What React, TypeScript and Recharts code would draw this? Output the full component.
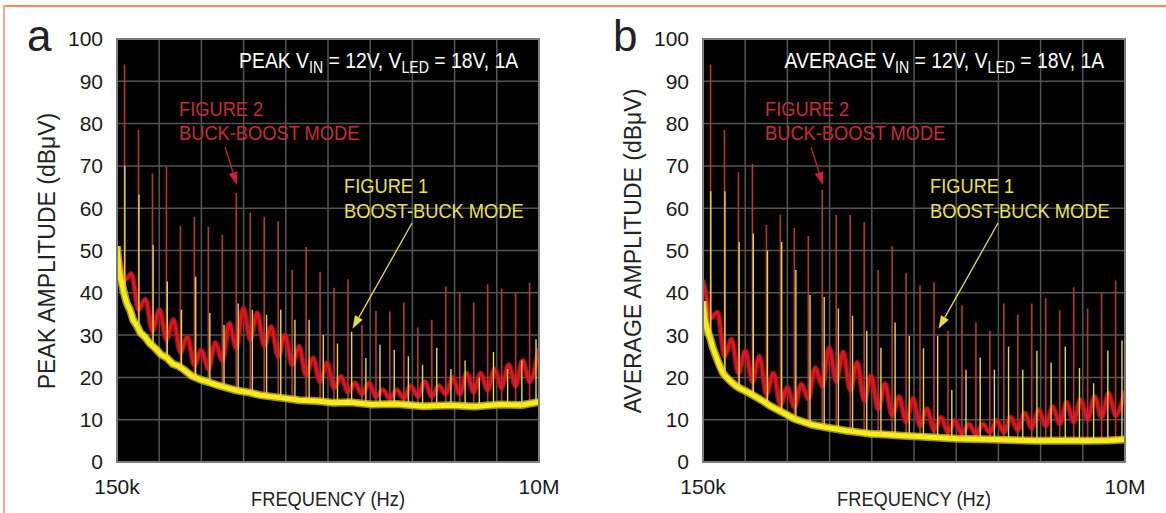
import React from 'react';
import { LineChart, Line, XAxis, YAxis, CartesianGrid, ReferenceLine } from 'recharts';

const FONT = "'Liberation Sans', Arial, sans-serif";
const NARROW = "'Liberation Sans Narrow', 'Liberation Sans', Arial, sans-serif";

// axis
const yTicks = [0, 10, 20, 30, 40, 50, 60, 70, 80, 90, 100];
const xGridKHz = [150, 1135, 2120, 3105, 4090, 5075, 6060, 7045, 8030, 9015, 10000];

// switching harmonics (kHz)
const redHarmonicsKHz = [
  326, 652, 978, 1304, 1630, 1956, 2282, 2608, 2934, 3260, 3586, 3912, 4238, 4564, 4890,
  5216, 5542, 5868, 6194, 6520, 6846, 7172, 7498, 7824, 8150, 8476, 8802, 9128, 9454, 9780,
];
const yellowHarmonicsKHz = [
  331, 662, 993, 1324, 1655, 1986, 2317, 2648, 2979, 3310, 3641, 3972, 4303, 4634, 4965,
  5296, 5627, 5958, 6289, 6620, 6951, 7282, 7613, 7944, 8275, 8606, 8937, 9268, 9599, 9930,
];

// spike tops (dBuV)
const redSpikePeak = [94, 78.5, 68.2, 69.8, 55.8, 58, 55.6, 53.7, 63.6, 58.9, 58, 56.9, 45.4, 50.8, 45, 41.2, 43.2, 32.4, 35.7, 35.6, 37.7, 31.8, 33.6, 41.5, 40, 37.7, 42, 41, 40, 42.4];
const yellowSpikePeak = [70, 63.2, 51.3, 42.7, 36, 43.8, 35.2, 32.4, 37.5, 36, 34.8, 36, 33.6, 33.6, 30, 28, 30.8, 24.6, 27.7, 26.5, 25, 23, 27, 22, 24, 20, 26, 22, 24, 29];
const redSpikeAvg = [94, 78.5, 68.5, 70.5, 56, 58.5, 55.3, 53.4, 64.3, 58.4, 58.4, 56.7, 45.4, 51, 44.6, 41.8, 42.5, 31, 37, 33, 31, 37.5, 34.8, 37.5, 38.7, 35.9, 41.3, 36.3, 40, 42.9];
const yellowSpikeAvg = [64, 64, 52, 54, 50, 52, 45.4, 39.5, 39, 36.3, 34.6, 31, 27, 33, 29.8, 26.9, 29.8, 17, 21.8, 24.7, 21.8, 27.3, 21.8, 26.3, 23.5, 27.3, 22.2, 18.6, 26.3, 28.7];

// yellow noise floor (boost-buck)
const floorKHz = [150, 190, 230, 270, 313, 380, 453, 530, 617, 700, 800, 920, 1050, 1180, 1317, 1450, 1580, 1714, 1900, 2087, 2280, 2484, 2700, 2950, 3254, 3500, 3800, 4048, 4400, 4818, 5200, 5588, 6100, 6685, 7300, 7922, 8500, 9090, 9600, 10000];
const floorPeak = [51, 46, 43.5, 42, 40, 37.5, 36, 33.5, 32.2, 30.5, 29.6, 28, 26.8, 25.4, 24.6, 23.2, 22.7, 21.8, 20.3, 19.5, 18.9, 18.2, 17.6, 16.9, 16.4, 15.8, 15.4, 15.1, 14.6, 14.4, 14, 14.1, 13.6, 13.7, 13.2, 13.4, 13.1, 13.6, 13.5, 14.2];
const floorAvg = [38, 34, 32, 30.5, 29.5, 27, 25, 23, 21, 20, 19, 18, 17.2, 16.6, 15.8, 15, 14.2, 13.3, 12.3, 11.3, 10.2, 9.5, 8.8, 8.3, 7.8, 7.4, 7, 6.7, 6.5, 6.2, 6, 5.8, 5.5, 5.4, 5.2, 5, 5.1, 5, 5.1, 5.3];

// red trace (buck-boost): valleys at harmonics, humps between
const redTraceKHz = [
  150, 250, 326, 489, 652, 815, 978, 1141, 1304, 1467, 1630, 1793, 1956, 2119, 2282, 2445, 2608, 2771, 2934, 3097,
  3260, 3423, 3586, 3749, 3912, 4075, 4238, 4401, 4564, 4727, 4890, 5053, 5216, 5379, 5542, 5705, 5868, 6031, 6194, 6357,
  6520, 6683, 6846, 7009, 7172, 7335, 7498, 7661, 7824, 7987, 8150, 8313, 8476, 8639, 8802, 8965, 9128, 9291, 9454, 9617,
  9780, 10000,
];
const redTracePeak = [
  51, 46, 43, 44.5, 36, 38.5, 31, 36, 29, 33.6, 26, 29.6, 23, 26.5, 22, 28.2, 24, 32.8, 27, 36.4,
  29, 35.2, 27.5, 32, 25, 30, 23, 27.3, 20.5, 24.6, 19, 23.4, 17.5, 20.2, 16.5, 18.7, 16, 18.7, 15.5, 17,
  15, 17, 15, 18, 15.5, 19, 15.5, 18, 16, 20, 16, 21, 16.5, 21, 17, 22, 17.5, 23, 18, 24,
  19, 27,
];
const redTraceAvg = [
  43, 38, 34, 35.4, 25, 29, 21, 26.3, 19, 25, 16, 21, 13.5, 17.6, 13, 18.4, 15, 22.3, 18, 27,
  19, 26, 17, 23.5, 14.5, 20.4, 12.5, 18.5, 11, 15.4, 9.5, 15, 8.5, 12.6, 7.5, 10.6, 7, 9.8, 6.5, 9,
  6.5, 9, 7, 9.8, 7, 10.6, 7.5, 11.5, 8, 12.3, 8.5, 13, 9, 14, 9.5, 14.7, 10, 15.5, 10.5, 16.2,
  11, 16.8,
];

const floorAt = (vals: number[], f: number) => {
  for (let i = 1; i < floorKHz.length; i++) {
    if (f <= floorKHz[i]) {
      const t = (f - floorKHz[i - 1]) / (floorKHz[i] - floorKHz[i - 1]);
      return vals[i - 1] + t * (vals[i] - vals[i - 1]);
    }
  }
  return vals[vals.length - 1];
};

const spikeData = (freqs: number[], tops: number[], floor: number[]) =>
  freqs.flatMap((f, i) => [
    { f, v: floorAt(floor, f) },
    { f, v: tops[i] },
    { f, v: null },
  ]);

const toPoints = (freqs: number[], vals: number[]) => freqs.map((f, i) => ({ f, v: vals[i] }));

const arrowShape = (color: string) => (p: any) => {
  const { x1, y1, x2, y2 } = p;
  const ang = Math.atan2(y2 - y1, x2 - x1);
  const len = 13;
  const hw = 4.5;
  const bx = x2 - len * Math.cos(ang);
  const by = y2 - len * Math.sin(ang);
  const nx = -Math.sin(ang) * hw;
  const ny = Math.cos(ang) * hw;
  return (
    <g>
      <line x1={x1} y1={y1} x2={bx} y2={by} stroke={color} strokeWidth={1.3} />
      <polygon points={`${x2},${y2} ${bx + nx},${by + ny} ${bx - nx},${by - ny}`} fill={color} />
    </g>
  );
};

const RED_TEXT = '#c92a3b';
const YELLOW_TEXT = '#ebe346';

type PanelProps = {
  left: number;
  width: number;
  letter: string;
  mode: string;
  yTitle: string;
  floor: number[];
  trace: number[];
  redTops: number[];
  yellowTops: number[];
};

const txt = (extra: React.CSSProperties): React.CSSProperties => ({
  position: 'absolute',
  fontFamily: FONT,
  fontSize: 21,
  lineHeight: '21px',
  whiteSpace: 'nowrap',
  ...extra,
});

const sub: React.CSSProperties = { fontSize: 16, position: 'relative', top: 5 };

function Panel({ left, width, letter, mode, yTitle, floor, trace, redTops, yellowTops }: PanelProps) {
  const plotL = 117;
  const plotT = 39;
  const plotW = 422;
  const plotH = 423;
  const tickStyle = { fill: '#1a1a1a', fontSize: 21, fontFamily: NARROW };
  return (
    <div style={{ position: 'absolute', left, top: 0, width, height: 513 }}>
      <LineChart
        width={width}
        height={513}
        margin={{ top: plotT, right: width - plotL - plotW, bottom: 0, left: 0 }}
      >
        <CartesianGrid stroke="#555" strokeWidth={1.5} fill="#000" fillOpacity={1} />
        <XAxis
          type="number"
          dataKey="f"
          domain={[150, 10000]}
          ticks={xGridKHz}
          interval={0}
          allowDataOverflow
          height={513 - plotT - plotH}
          tickLine={false}
          axisLine={false}
          tickSize={0}
          tickMargin={17}
          tickFormatter={(v: number) => (v === 150 ? '150k' : v === 10000 ? '10M' : '')}
          tick={tickStyle}
        />
        <YAxis
          type="number"
          domain={[0, 100]}
          ticks={yTicks}
          interval={0}
          width={plotL}
          tickLine={false}
          axisLine={false}
          tickSize={0}
          tickMargin={14}
          tick={tickStyle}
        />
        <Line
          data={toPoints(redTraceKHz, trace)}
          dataKey="v"
          type="monotone"
          stroke="#a01820"
          strokeWidth={5.5}
          strokeOpacity={0.8}
          dot={false}
          isAnimationActive={false}
        />
        <Line
          data={toPoints(redTraceKHz, trace)}
          dataKey="v"
          type="monotone"
          stroke="#e0141e"
          strokeWidth={3}
          dot={false}
          isAnimationActive={false}
        />
        <Line
          data={spikeData(redHarmonicsKHz, redTops, floor)}
          dataKey="v"
          type="linear"
          stroke="#b8343c"
          strokeWidth={1.6}
          dot={false}
          connectNulls={false}
          isAnimationActive={false}
        />
        <Line
          data={toPoints(floorKHz, floor)}
          dataKey="v"
          type="linear"
          stroke="#d4c41e"
          strokeWidth={8}
          strokeOpacity={0.75}
          dot={false}
          isAnimationActive={false}
        />
        <Line
          data={toPoints(floorKHz, floor)}
          dataKey="v"
          type="linear"
          stroke="#f8ec1e"
          strokeWidth={5}
          dot={false}
          isAnimationActive={false}
        />
        <Line
          data={spikeData(yellowHarmonicsKHz, yellowTops, floor)}
          dataKey="v"
          type="linear"
          stroke="#e2d846"
          strokeWidth={1.4}
          dot={false}
          connectNulls={false}
          isAnimationActive={false}
        />
        <ReferenceLine
          segment={[{ x: 2671, y: 74.5 }, { x: 2951, y: 65.5 }]}
          shape={arrowShape('#d02030')}
        />
        <ReferenceLine
          segment={[{ x: 7036, y: 56.5 }, { x: 5647, y: 31.5 }]}
          shape={arrowShape('#e6de3c')}
        />
      </LineChart>

      {/* plot frame */}
      <div
        style={{
          position: 'absolute',
          left: plotL - 1,
          top: plotT - 1,
          width: plotW + 2,
          height: plotH + 2,
          border: '2px solid #7c7c7c',
          boxSizing: 'border-box',
          pointerEvents: 'none',
        }}
      />

      <div style={txt({ left: 27, top: 14, fontSize: 44, lineHeight: '44px', color: '#222' })}>{letter}</div>

      <div
        style={txt({
          right: width - 518,
          top: 50,
          fontSize: 22,
          color: '#fff',
          transform: 'scaleX(0.88)',
          transformOrigin: 'right',
        })}
      >
        {mode} V<span style={sub}>IN</span> = 12V, V<span style={sub}>LED</span> = 18V, 1A
      </div>

      <div style={txt({ left: 179, top: 98, color: RED_TEXT, transform: 'scaleX(0.87)', transformOrigin: 'left' })}>
        FIGURE 2
      </div>
      <div style={txt({ left: 179, top: 122, color: RED_TEXT, transform: 'scaleX(0.87)', transformOrigin: 'left' })}>
        BUCK-BOOST MODE
      </div>
      <div style={txt({ left: 344, top: 175, color: YELLOW_TEXT, transform: 'scaleX(0.87)', transformOrigin: 'left' })}>
        FIGURE 1
      </div>
      <div style={txt({ left: 344, top: 200, color: YELLOW_TEXT, transform: 'scaleX(0.87)', transformOrigin: 'left' })}>
        BOOST-BUCK MODE
      </div>

      <div
        style={txt({
          left: 47,
          top: 251,
          fontSize: 23,
          lineHeight: '23px',
          color: '#222',
          transform: 'translate(-50%, -50%) rotate(-90deg)',
        })}
      >
        {yTitle}
      </div>
      <div
        style={txt({
          left: plotL + plotW / 2,
          top: 488,
          color: '#222',
          transform: 'translateX(-50%) scaleX(0.87)',
        })}
      >
        FREQUENCY (Hz)
      </div>
    </div>
  );
}

export default function App() {
  return (
    <div style={{ position: 'relative', width: 1166, height: 513, background: '#fff', overflow: 'hidden' }}>
      <style>{'body{margin:0}'}</style>
      <div style={{ position: 'absolute', left: 3, top: 5, width: 1163, height: 2, background: '#f28c5e' }} />
      <div style={{ position: 'absolute', left: 3, top: 5, width: 2, height: 508, background: '#f4a884' }} />
      <Panel
        left={0}
        width={583}
        letter="a"
        mode="PEAK"
        yTitle="PEAK AMPLITUDE (dBμV)"
        floor={floorPeak}
        trace={redTracePeak}
        redTops={redSpikePeak}
        yellowTops={yellowSpikePeak}
      />
      <Panel
        left={586}
        width={580}
        letter="b"
        mode="AVERAGE"
        yTitle="AVERAGE AMPLITUDE (dBμV)"
        floor={floorAvg}
        trace={redTraceAvg}
        redTops={redSpikeAvg}
        yellowTops={yellowSpikeAvg}
      />
    </div>
  );
}
